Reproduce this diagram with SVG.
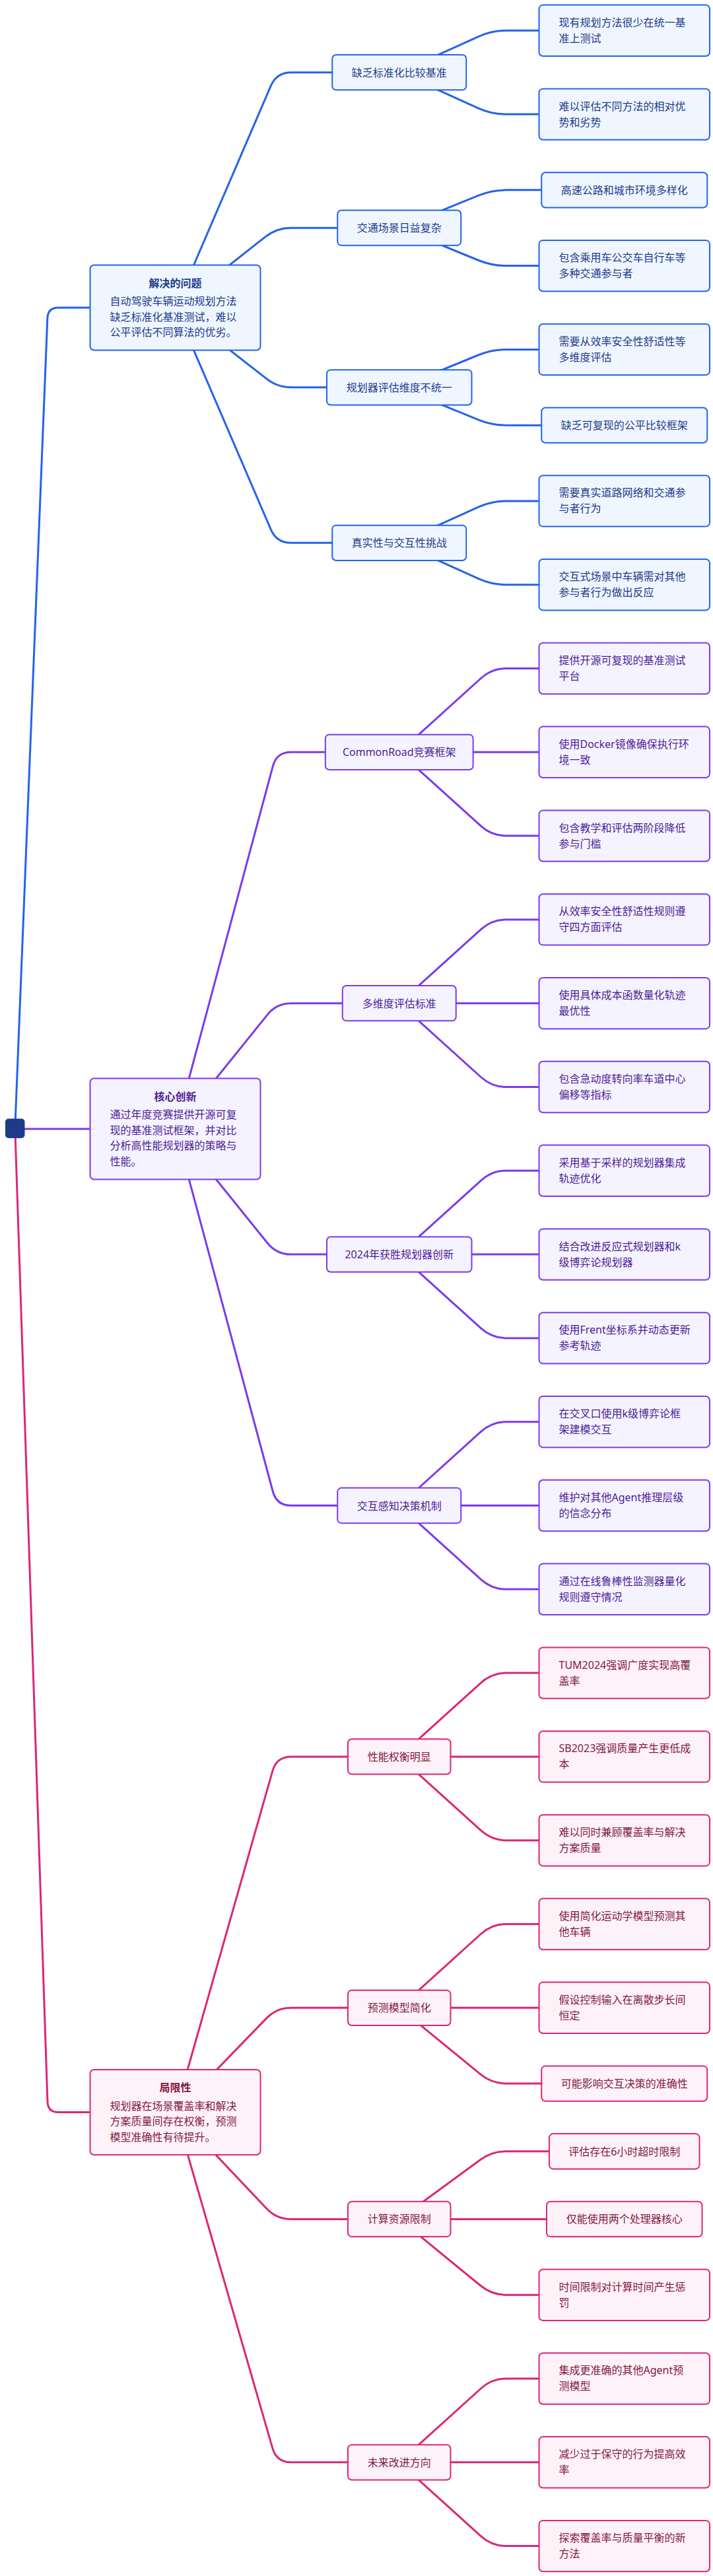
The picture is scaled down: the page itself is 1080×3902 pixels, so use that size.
<svg xmlns="http://www.w3.org/2000/svg" width="1080" height="3902" viewBox="0 0 1080 3902">
<style>
text{font-family:"Noto Sans","Noto Sans CJK SC",sans-serif;font-size:16px}
.lk{fill:none;stroke-width:3;stroke-linecap:round;stroke-linejoin:round}
.la{stroke:#2563eb}.lb{stroke:#7c3aed}.lc{stroke:#db2777}
.ba{fill:#eff6ff;stroke:#2563eb;stroke-width:2}
.bb{fill:#f5f3ff;stroke:#7c3aed;stroke-width:2}
.bc{fill:#fdf2f8;stroke:#db2777;stroke-width:2}
.ta{fill:#1e3a8a}.tb{fill:#4c1d95}.tc{fill:#831843}
.c{text-anchor:middle}.h{font-weight:700}
</style>
<rect width="1080" height="3902" fill="#ffffff"/>
<g id="connectors">
<path class="lk la" d="M22.75,1709 L71.86,482 Q72.5,466 88.5,466 L136.5,466"/>
<path class="lk lb" d="M22.75,1710 L136.5,1710"/>
<path class="lk lc" d="M22.75,1709 L71.97,3183.5 Q72.5,3199.5 88.5,3199.5 L136.5,3199.5"/>
<path class="lk la" d="M265.75,466 L410.31,129.91 Q419,109.7 441,109.7 L503.25,109.7"/>
<path class="lk la" d="M265.75,466 L401.72,358.82 Q419,345.2 441,345.2 L511.25,345.2"/>
<path class="lk la" d="M265.75,466 L401.72,572.18 Q419,586.8 441,586.8 L495,586.8"/>
<path class="lk la" d="M265.75,466 L410.31,802.09 Q419,822.3 441,822.3 L503.25,822.3"/>
<path class="lk lb" d="M265.75,1710 L413.29,1160.55 Q419,1139.3 441,1139.3 L492.85,1139.3"/>
<path class="lk lb" d="M265.75,1710 L405.2,1536.83 Q419,1519.7 441,1519.7 L518.75,1519.7"/>
<path class="lk lb" d="M265.75,1710 L405.2,1882.97 Q419,1900.1 441,1900.1 L495,1900.1"/>
<path class="lk lb" d="M265.75,1710 L413.29,2259.25 Q419,2280.5 441,2280.5 L511.25,2280.5"/>
<path class="lk lc" d="M265.75,3199.5 L412.98,2682.06 Q419,2660.9 441,2660.9 L527,2660.9"/>
<path class="lk lc" d="M265.75,3199.5 L403.69,3057.1 Q419,3041.3 441,3041.3 L527,3041.3"/>
<path class="lk lc" d="M265.75,3199.5 L403.88,3345.47 Q419,3361.45 441,3361.45 L527,3361.45"/>
<path class="lk lc" d="M265.75,3199.5 L412.89,3708.66 Q419,3729.8 441,3729.8 L527,3729.8"/>
<path class="lk la" d="M604.75,109.7 L724.95,55.36 Q745,46.3 767,46.3 L816.5,46.3"/>
<path class="lk la" d="M604.75,109.7 L724.95,164.04 Q745,173.1 767,173.1 L816.5,173.1"/>
<path class="lk la" d="M604.75,345.2 L724.63,296.19 Q745,287.85 767,287.85 L820.25,287.85"/>
<path class="lk la" d="M604.75,345.2 L724.63,394.26 Q745,402.6 767,402.6 L816.5,402.6"/>
<path class="lk la" d="M604.75,586.8 L724.63,537.74 Q745,529.4 767,529.4 L816.5,529.4"/>
<path class="lk la" d="M604.75,586.8 L724.63,635.81 Q745,644.15 767,644.15 L820.25,644.15"/>
<path class="lk la" d="M604.75,822.3 L724.95,767.96 Q745,758.9 767,758.9 L816.5,758.9"/>
<path class="lk la" d="M604.75,822.3 L724.95,876.64 Q745,885.7 767,885.7 L816.5,885.7"/>
<path class="lk lb" d="M604.75,1139.3 L728.68,1027.25 Q745,1012.5 767,1012.5 L816.5,1012.5"/>
<path class="lk lb" d="M604.75,1139.3 L816.5,1139.3"/>
<path class="lk lb" d="M604.75,1139.3 L728.68,1251.35 Q745,1266.1 767,1266.1 L816.5,1266.1"/>
<path class="lk lb" d="M604.75,1519.7 L728.68,1407.65 Q745,1392.9 767,1392.9 L816.5,1392.9"/>
<path class="lk lb" d="M604.75,1519.7 L816.5,1519.7"/>
<path class="lk lb" d="M604.75,1519.7 L728.68,1631.75 Q745,1646.5 767,1646.5 L816.5,1646.5"/>
<path class="lk lb" d="M604.75,1900.1 L728.68,1788.05 Q745,1773.3 767,1773.3 L816.5,1773.3"/>
<path class="lk lb" d="M604.75,1900.1 L816.5,1900.1"/>
<path class="lk lb" d="M604.75,1900.1 L728.68,2012.15 Q745,2026.9 767,2026.9 L816.5,2026.9"/>
<path class="lk lb" d="M604.75,2280.5 L728.68,2168.45 Q745,2153.7 767,2153.7 L816.5,2153.7"/>
<path class="lk lb" d="M604.75,2280.5 L816.5,2280.5"/>
<path class="lk lb" d="M604.75,2280.5 L728.68,2392.55 Q745,2407.3 767,2407.3 L816.5,2407.3"/>
<path class="lk lc" d="M604.75,2660.9 L728.68,2548.85 Q745,2534.1 767,2534.1 L816.5,2534.1"/>
<path class="lk lc" d="M604.75,2660.9 L816.5,2660.9"/>
<path class="lk lc" d="M604.75,2660.9 L728.68,2772.95 Q745,2787.7 767,2787.7 L816.5,2787.7"/>
<path class="lk lc" d="M604.75,3041.3 L728.68,2929.25 Q745,2914.5 767,2914.5 L816.5,2914.5"/>
<path class="lk lc" d="M604.75,3041.3 L816.5,3041.3"/>
<path class="lk lc" d="M604.75,3041.3 L727.97,3142.12 Q745,3156.05 767,3156.05 L820.25,3156.05"/>
<path class="lk lc" d="M604.75,3361.45 L727.25,3271.75 Q745,3258.75 767,3258.75 L831.95,3258.75"/>
<path class="lk lc" d="M604.75,3361.45 L828,3361.45"/>
<path class="lk lc" d="M604.75,3361.45 L727.97,3462.27 Q745,3476.2 767,3476.2 L816.5,3476.2"/>
<path class="lk lc" d="M604.75,3729.8 L728.68,3617.75 Q745,3603 767,3603 L816.5,3603"/>
<path class="lk lc" d="M604.75,3729.8 L816.5,3729.8"/>
<path class="lk lc" d="M604.75,3729.8 L728.68,3841.85 Q745,3856.6 767,3856.6 L816.5,3856.6"/>
</g>
<g id="n-root"><rect x="8" y="1694.5" width="29.5" height="29.5" rx="5" fill="#1e3a8a"/></g>
<g id="n-a">
<rect class="ba" x="136.5" y="401.5" width="258" height="129" rx="6"/>
<text class="ta h c" x="265.5" y="434.5">解决的问题</text>
<text class="ta" x="166.5" y="462">自动驾驶车辆运动规划方法</text>
<text class="ta" x="166.5" y="485.5">缺乏标准化基准测试，难以</text>
<text class="ta" x="166.5" y="509">公平评估不同算法的优劣。</text>
</g>
<g id="n-b">
<rect class="bb" x="136.5" y="1633.5" width="258" height="153" rx="6"/>
<text class="tb h c" x="265.5" y="1666.5">核心创新</text>
<text class="tb" x="166.5" y="1694">通过年度竞赛提供开源可复</text>
<text class="tb" x="166.5" y="1717.5">现的基准测试框架，并对比</text>
<text class="tb" x="166.5" y="1741">分析高性能规划器的策略与</text>
<text class="tb" x="166.5" y="1764.5">性能。</text>
</g>
<g id="n-c">
<rect class="bc" x="136.5" y="3135" width="258" height="129" rx="6"/>
<text class="tc h c" x="265.5" y="3168">局限性</text>
<text class="tc" x="166.5" y="3195.5">规划器在场景覆盖率和解决</text>
<text class="tc" x="166.5" y="3219">方案质量间存在权衡，预测</text>
<text class="tc" x="166.5" y="3242.5">模型准确性有待提升。</text>
</g>
<g id="n-a1"><rect class="ba" x="503.25" y="83.05" width="203" height="53.3" rx="6"/><text class="ta c" x="604.75" y="115.7">缺乏标准化比较基准</text></g>
<g id="n-a2"><rect class="ba" x="511.25" y="318.55" width="187" height="53.3" rx="6"/><text class="ta c" x="604.75" y="351.2">交通场景日益复杂</text></g>
<g id="n-a3"><rect class="ba" x="495" y="560.15" width="219.5" height="53.3" rx="6"/><text class="ta c" x="604.75" y="592.8">规划器评估维度不统一</text></g>
<g id="n-a4"><rect class="ba" x="503.25" y="795.65" width="203" height="53.3" rx="6"/><text class="ta c" x="604.75" y="828.3">真实性与交互性挑战</text></g>
<g id="n-b1"><rect class="bb" x="492.85" y="1112.65" width="223.8" height="53.3" rx="6"/><text class="tb c" x="604.75" y="1145.3">CommonRoad竞赛框架</text></g>
<g id="n-b2"><rect class="bb" x="518.75" y="1493.05" width="172" height="53.3" rx="6"/><text class="tb c" x="604.75" y="1525.7">多维度评估标准</text></g>
<g id="n-b3"><rect class="bb" x="495" y="1873.45" width="219.5" height="53.3" rx="6"/><text class="tb c" x="604.75" y="1906.1">2024年获胜规划器创新</text></g>
<g id="n-b4"><rect class="bb" x="511.25" y="2253.85" width="187" height="53.3" rx="6"/><text class="tb c" x="604.75" y="2286.5">交互感知决策机制</text></g>
<g id="n-c1"><rect class="bc" x="527" y="2634.25" width="155.5" height="53.3" rx="6"/><text class="tc c" x="604.75" y="2666.9">性能权衡明显</text></g>
<g id="n-c2"><rect class="bc" x="527" y="3014.65" width="155.5" height="53.3" rx="6"/><text class="tc c" x="604.75" y="3047.3">预测模型简化</text></g>
<g id="n-c3"><rect class="bc" x="527" y="3334.8" width="155.5" height="53.3" rx="6"/><text class="tc c" x="604.75" y="3367.45">计算资源限制</text></g>
<g id="n-c4"><rect class="bc" x="527" y="3703.15" width="155.5" height="53.3" rx="6"/><text class="tc c" x="604.75" y="3735.8">未来改进方向</text></g>
<g id="n-l1"><rect class="ba" x="816.5" y="7.6" width="258.5" height="77.4" rx="6"/><text class="ta" x="846.5" y="39.7">现有规划方法很少在统一基</text><text class="ta" x="846.5" y="63.7">准上测试</text></g>
<g id="n-l2"><rect class="ba" x="816.5" y="134.4" width="258.5" height="77.4" rx="6"/><text class="ta" x="846.5" y="166.5">难以评估不同方法的相对优</text><text class="ta" x="846.5" y="190.5">势和劣势</text></g>
<g id="n-l3"><rect class="ba" x="820.25" y="261.2" width="251" height="53.3" rx="6"/><text class="ta c" x="945.75" y="293.85">高速公路和城市环境多样化</text></g>
<g id="n-l4"><rect class="ba" x="816.5" y="363.9" width="258.5" height="77.4" rx="6"/><text class="ta" x="846.5" y="396">包含乘用车公交车自行车等</text><text class="ta" x="846.5" y="420">多种交通参与者</text></g>
<g id="n-l5"><rect class="ba" x="816.5" y="490.7" width="258.5" height="77.4" rx="6"/><text class="ta" x="846.5" y="522.8">需要从效率安全性舒适性等</text><text class="ta" x="846.5" y="546.8">多维度评估</text></g>
<g id="n-l6"><rect class="ba" x="820.25" y="617.5" width="251" height="53.3" rx="6"/><text class="ta c" x="945.75" y="650.15">缺乏可复现的公平比较框架</text></g>
<g id="n-l7"><rect class="ba" x="816.5" y="720.2" width="258.5" height="77.4" rx="6"/><text class="ta" x="846.5" y="752.3">需要真实道路网络和交通参</text><text class="ta" x="846.5" y="776.3">与者行为</text></g>
<g id="n-l8"><rect class="ba" x="816.5" y="847" width="258.5" height="77.4" rx="6"/><text class="ta" x="846.5" y="879.1">交互式场景中车辆需对其他</text><text class="ta" x="846.5" y="903.1">参与者行为做出反应</text></g>
<g id="n-l9"><rect class="bb" x="816.5" y="973.8" width="258.5" height="77.4" rx="6"/><text class="tb" x="846.5" y="1005.9">提供开源可复现的基准测试</text><text class="tb" x="846.5" y="1029.9">平台</text></g>
<g id="n-l10"><rect class="bb" x="816.5" y="1100.6" width="258.5" height="77.4" rx="6"/><text class="tb" x="846.5" y="1132.7">使用Docker镜像确保执行环</text><text class="tb" x="846.5" y="1156.7">境一致</text></g>
<g id="n-l11"><rect class="bb" x="816.5" y="1227.4" width="258.5" height="77.4" rx="6"/><text class="tb" x="846.5" y="1259.5">包含教学和评估两阶段降低</text><text class="tb" x="846.5" y="1283.5">参与门槛</text></g>
<g id="n-l12"><rect class="bb" x="816.5" y="1354.2" width="258.5" height="77.4" rx="6"/><text class="tb" x="846.5" y="1386.3">从效率安全性舒适性规则遵</text><text class="tb" x="846.5" y="1410.3">守四方面评估</text></g>
<g id="n-l13"><rect class="bb" x="816.5" y="1481" width="258.5" height="77.4" rx="6"/><text class="tb" x="846.5" y="1513.1">使用具体成本函数量化轨迹</text><text class="tb" x="846.5" y="1537.1">最优性</text></g>
<g id="n-l14"><rect class="bb" x="816.5" y="1607.8" width="258.5" height="77.4" rx="6"/><text class="tb" x="846.5" y="1639.9">包含急动度转向率车道中心</text><text class="tb" x="846.5" y="1663.9">偏移等指标</text></g>
<g id="n-l15"><rect class="bb" x="816.5" y="1734.6" width="258.5" height="77.4" rx="6"/><text class="tb" x="846.5" y="1766.7">采用基于采样的规划器集成</text><text class="tb" x="846.5" y="1790.7">轨迹优化</text></g>
<g id="n-l16"><rect class="bb" x="816.5" y="1861.4" width="258.5" height="77.4" rx="6"/><text class="tb" x="846.5" y="1893.5">结合改进反应式规划器和k</text><text class="tb" x="846.5" y="1917.5">级博弈论规划器</text></g>
<g id="n-l17"><rect class="bb" x="816.5" y="1988.2" width="258.5" height="77.4" rx="6"/><text class="tb" x="846.5" y="2020.3">使用Frent坐标系并动态更新</text><text class="tb" x="846.5" y="2044.3">参考轨迹</text></g>
<g id="n-l18"><rect class="bb" x="816.5" y="2115" width="258.5" height="77.4" rx="6"/><text class="tb" x="846.5" y="2147.1">在交叉口使用k级博弈论框</text><text class="tb" x="846.5" y="2171.1">架建模交互</text></g>
<g id="n-l19"><rect class="bb" x="816.5" y="2241.8" width="258.5" height="77.4" rx="6"/><text class="tb" x="846.5" y="2273.9">维护对其他Agent推理层级</text><text class="tb" x="846.5" y="2297.9">的信念分布</text></g>
<g id="n-l20"><rect class="bb" x="816.5" y="2368.6" width="258.5" height="77.4" rx="6"/><text class="tb" x="846.5" y="2400.7">通过在线鲁棒性监测器量化</text><text class="tb" x="846.5" y="2424.7">规则遵守情况</text></g>
<g id="n-l21"><rect class="bc" x="816.5" y="2495.4" width="258.5" height="77.4" rx="6"/><text class="tc" x="846.5" y="2527.5">TUM2024强调广度实现高覆</text><text class="tc" x="846.5" y="2551.5">盖率</text></g>
<g id="n-l22"><rect class="bc" x="816.5" y="2622.2" width="258.5" height="77.4" rx="6"/><text class="tc" x="846.5" y="2654.3">SB2023强调质量产生更低成</text><text class="tc" x="846.5" y="2678.3">本</text></g>
<g id="n-l23"><rect class="bc" x="816.5" y="2749" width="258.5" height="77.4" rx="6"/><text class="tc" x="846.5" y="2781.1">难以同时兼顾覆盖率与解决</text><text class="tc" x="846.5" y="2805.1">方案质量</text></g>
<g id="n-l24"><rect class="bc" x="816.5" y="2875.8" width="258.5" height="77.4" rx="6"/><text class="tc" x="846.5" y="2907.9">使用简化运动学模型预测其</text><text class="tc" x="846.5" y="2931.9">他车辆</text></g>
<g id="n-l25"><rect class="bc" x="816.5" y="3002.6" width="258.5" height="77.4" rx="6"/><text class="tc" x="846.5" y="3034.7">假设控制输入在离散步长间</text><text class="tc" x="846.5" y="3058.7">恒定</text></g>
<g id="n-l26"><rect class="bc" x="820.25" y="3129.4" width="251" height="53.3" rx="6"/><text class="tc c" x="945.75" y="3162.05">可能影响交互决策的准确性</text></g>
<g id="n-l27"><rect class="bc" x="831.95" y="3232.1" width="227.6" height="53.3" rx="6"/><text class="tc c" x="945.75" y="3264.75">评估存在6小时超时限制</text></g>
<g id="n-l28"><rect class="bc" x="828" y="3334.8" width="235.5" height="53.3" rx="6"/><text class="tc c" x="945.75" y="3367.45">仅能使用两个处理器核心</text></g>
<g id="n-l29"><rect class="bc" x="816.5" y="3437.5" width="258.5" height="77.4" rx="6"/><text class="tc" x="846.5" y="3469.6">时间限制对计算时间产生惩</text><text class="tc" x="846.5" y="3493.6">罚</text></g>
<g id="n-l30"><rect class="bc" x="816.5" y="3564.3" width="258.5" height="77.4" rx="6"/><text class="tc" x="846.5" y="3596.4">集成更准确的其他Agent预</text><text class="tc" x="846.5" y="3620.4">测模型</text></g>
<g id="n-l31"><rect class="bc" x="816.5" y="3691.1" width="258.5" height="77.4" rx="6"/><text class="tc" x="846.5" y="3723.2">减少过于保守的行为提高效</text><text class="tc" x="846.5" y="3747.2">率</text></g>
<g id="n-l32"><rect class="bc" x="816.5" y="3817.9" width="258.5" height="77.4" rx="6"/><text class="tc" x="846.5" y="3850">探索覆盖率与质量平衡的新</text><text class="tc" x="846.5" y="3874">方法</text></g>
</svg>
